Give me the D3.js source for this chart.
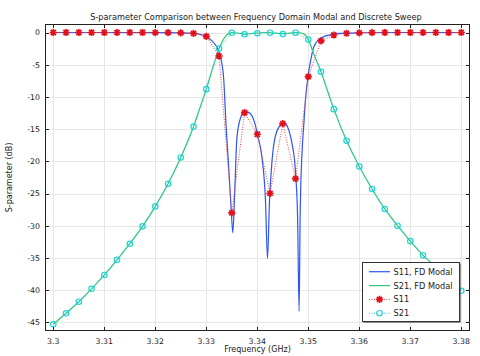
<!DOCTYPE html>
<html><head><meta charset="utf-8">
<script src="https://cdn.jsdelivr.net/npm/d3@7"></script>
<style>body{margin:0;background:#fff}svg{display:block}</style>
</head><body><svg id="c" width="480" height="356"></svg>
<script>
const titleText = "S-parameter Comparison between Frequency Domain Modal and Discrete Sweep";
const xLabel = "Frequency (GHz)";
const yLabel = "S-parameter (dB)";
const xTickValues = [3.3, 3.31, 3.32, 3.33, 3.34, 3.35, 3.36, 3.37, 3.38];
const yTickValues = [0, -5, -10, -15, -20, -25, -30, -35, -40, -45];

// Discrete sweep (markers)
const sweepFreq = [3.3, 3.3025, 3.305, 3.3075, 3.31, 3.3125, 3.315, 3.3175, 3.32, 3.3225, 3.325, 3.3275,
  3.33, 3.3325, 3.335, 3.3375, 3.34, 3.3425, 3.345, 3.3475, 3.35, 3.3525, 3.355, 3.3575, 3.36, 3.3625,
  3.365, 3.3675, 3.37, 3.3725, 3.375, 3.3775, 3.38];
const s11Sweep = [0, 0, 0, 0, 0, 0, 0, 0, -0.01, -0.02, -0.05, -0.13,
  -0.6, -3.65, -28.0, -12.45, -15.8, -24.97, -14.16, -22.7, -6.86, -1.3, -0.39, -0.12, -0.05, -0.02,
  0, 0, 0, 0, 0, 0, 0];
const s21Sweep = [-45.3, -43.6, -41.8, -39.8, -37.65, -35.3, -32.8, -30.1, -27.0, -23.5, -19.4, -14.6,
  -8.8, -2.5, -0.05, -0.28, -0.12, -0.03, -0.23, -0.03, -1.1, -6.1, -11.9, -16.8, -20.8, -24.3,
  -27.4, -30.0, -32.4, -34.6, -36.4, -38.3, -40.1];

// Frequency domain modal (continuous curves)
const modalFreqS11 = [3.3, 3.31, 3.32, 3.325, 3.3275, 3.329, 3.33, 3.3311, 3.3321, 3.3327, 3.3334, 3.3339,
  3.3344, 3.3349, 3.3352, 3.33555, 3.336, 3.3367, 3.3376, 3.3383, 3.3396, 3.34, 3.3409, 3.3416, 3.342,
  3.3424, 3.3429, 3.3435, 3.3444, 3.3452, 3.3459, 3.3468, 3.3473, 3.3476, 3.3479, 3.3482, 3.3484, 3.3488,
  3.3491, 3.3494, 3.3499, 3.3505, 3.351, 3.3517, 3.3527, 3.3543, 3.356, 3.36, 3.365, 3.38];
const modalS11 = [0, 0, -0.02, -0.05, -0.14, -0.33, -0.62, -1.3, -2.3, -3.5, -7.1, -14.8,
  -21.0, -27.8, -31.1, -25.2, -16.4, -13.3, -12.3, -12.4, -14.3, -15.8, -19.3, -26.0, -35.1,
  -26.0, -19.8, -16.2, -14.5, -14.0, -14.6, -17.2, -19.8, -22.9, -28.6, -43.3, -28.6, -18.2,
  -14.5, -10.9, -7.1, -4.2, -2.4, -1.4, -0.77, -0.36, -0.15, -0.04, 0, 0];
const modalFreqS21 = [3.3, 3.3025, 3.305, 3.3075, 3.31, 3.3125, 3.315, 3.3175, 3.32, 3.3225, 3.325, 3.3275,
  3.3288, 3.33, 3.3312, 3.3325, 3.3334, 3.3341, 3.335, 3.3352, 3.3365, 3.3378, 3.339, 3.342, 3.345,
  3.3465, 3.348, 3.3492, 3.35, 3.351, 3.3525, 3.3537, 3.355, 3.3575, 3.36, 3.3625, 3.365, 3.3675,
  3.37, 3.3725, 3.375, 3.3775, 3.38];
const modalS21 = [-45.3, -43.6, -41.8, -39.8, -37.65, -35.3, -32.8, -30.1, -27.0, -23.5, -19.4, -14.6,
  -11.6, -8.8, -5.6, -2.5, -1.0, -0.3, -0.02, 0, -0.12, -0.26, -0.15, 0, -0.18,
  -0.08, 0, -0.25, -1.05, -3.2, -6.1, -8.9, -11.9, -16.8, -20.8, -24.3, -27.4, -30.0,
  -32.4, -34.6, -36.4, -38.3, -40.1];

const legendLabels = ["S11, FD Modal", "S21, FD Modal", "S11", "S21"];
const colors = {blue: "#2f55ef", green: "#30c870", red: "#e3101c", cyan: "#1fd2d6"};

const svg = d3.select("#c");
const L = 45, R = 470, T = 24, B = 331;
const x = d3.scaleLinear().domain([3.298373, 3.381706]).range([L, R]);
const y = d3.scaleLinear().domain([-46.35, 1.32]).range([B, T]);
const font = "DejaVu Sans, sans-serif";

svg.append("rect").attr("width", 480).attr("height", 356).attr("fill", "#fff");

// grid
const grid = svg.append("g").attr("stroke", "#e6e6e6").attr("stroke-width", 1);
xTickValues.forEach(v => grid.append("line").attr("x1", Math.round(x(v)) + 0.5).attr("x2", Math.round(x(v)) + 0.5).attr("y1", T).attr("y2", B));
yTickValues.forEach(v => grid.append("line").attr("y1", Math.round(y(v)) + 0.5).attr("y2", Math.round(y(v)) + 0.5).attr("x1", L).attr("x2", R));

svg.append("clipPath").attr("id", "clip").append("rect").attr("x", L).attr("y", T).attr("width", R - L).attr("height", B - T);
const plot = svg.append("g").attr("clip-path", "url(#clip)");

const line = d3.line().x(d => x(d[0])).y(d => y(d[1])).curve(d3.curveMonotoneX);
const lin = d3.line().x(d => x(d[0])).y(d => y(d[1]));

const s11M = modalFreqS11.map((f, i) => [f, modalS11[i]]);
const s21M = modalFreqS21.map((f, i) => [f, modalS21[i]]);
const s11D = sweepFreq.map((f, i) => [f, s11Sweep[i]]);
const s21D = sweepFreq.map((f, i) => [f, s21Sweep[i]]);

plot.append("path").attr("d", line(s11M)).attr("fill", "none").attr("stroke", colors.blue).attr("stroke-width", 1.2);
plot.append("path").attr("d", line(s21M)).attr("fill", "none").attr("stroke", colors.green).attr("stroke-width", 1.2);
plot.append("path").attr("d", lin(s11D)).attr("fill", "none").attr("stroke", "#e84848").attr("stroke-width", 1).attr("stroke-dasharray", "1,1.5");
plot.append("path").attr("d", lin(s21D)).attr("fill", "none").attr("stroke", colors.cyan).attr("stroke-width", 1).attr("stroke-dasharray", "1,1.5");

function star(r) {
  const d = r * 0.707;
  return `M${-r},0L${r},0M0,${-r}L0,${r}M${-d},${-d}L${d},${d}M${-d},${d}L${d},${-d}`;
}
plot.append("g").selectAll("path").data(s11D).join("path")
  .attr("transform", d => `translate(${x(d[0])},${y(d[1])})`)
  .attr("d", star(3.6)).attr("stroke", colors.red).attr("stroke-width", 1.7).attr("fill", "none");
plot.append("g").selectAll("circle").data(s21D).join("circle")
  .attr("cx", d => x(d[0])).attr("cy", d => y(d[1])).attr("r", 2.7)
  .attr("fill", "none").attr("stroke", colors.cyan).attr("stroke-width", 1.2);

// frame + inside ticks
const ax = svg.append("g").attr("stroke", "#222").attr("stroke-width", 1).attr("fill", "none");
ax.append("rect").attr("x", L + 0.5).attr("y", T + 0.5).attr("width", R - L - 1).attr("height", B - T - 1);
xTickValues.forEach(v => {
  const px = Math.round(x(v)) + 0.5;
  ax.append("line").attr("x1", px).attr("x2", px).attr("y1", B).attr("y2", B - 4);
  ax.append("line").attr("x1", px).attr("x2", px).attr("y1", T).attr("y2", T + 4);
});
yTickValues.forEach(v => {
  const py = Math.round(y(v)) + 0.5;
  ax.append("line").attr("y1", py).attr("y2", py).attr("x1", L).attr("x2", L + 4);
  ax.append("line").attr("y1", py).attr("y2", py).attr("x1", R).attr("x2", R - 4);
});

const txt = svg.append("g").attr("font-family", font).attr("fill", "#222");
xTickValues.forEach(v => txt.append("text").attr("x", x(v)).attr("y", 343.5).attr("text-anchor", "middle").attr("font-size", 7.8).text(d3.format("")(v)));
yTickValues.forEach(v => txt.append("text").attr("x", 40).attr("y", y(v) + 2.8).attr("text-anchor", "end").attr("font-size", 7.8).text(v));
txt.append("text").attr("x", (L + R) / 2).attr("y", 352).attr("text-anchor", "middle").attr("font-size", 8).text(xLabel);
txt.append("text").attr("transform", `translate(11.5,${(T + B) / 2}) rotate(-90)`).attr("text-anchor", "middle").attr("font-size", 8).text(yLabel);
txt.append("text").attr("x", 256).attr("y", 19.5).attr("text-anchor", "middle").attr("font-size", 8.2).text(titleText);

// legend
const lg = svg.append("g");
lg.append("rect").attr("x", 363.5).attr("y", 263.5).attr("width", 97).attr("height", 59).attr("fill", "#333");
lg.append("rect").attr("x", 362.5).attr("y", 262.5).attr("width", 97).attr("height", 59).attr("fill", "#fff").attr("stroke", "#333").attr("stroke-width", 1);
const rowsY = [271.7, 285.6, 299.4, 313.2];
const lx1 = 369, lx2 = 390;
lg.append("line").attr("x1", lx1).attr("x2", lx2).attr("y1", rowsY[0]).attr("y2", rowsY[0]).attr("stroke", colors.blue).attr("stroke-width", 1.2);
lg.append("line").attr("x1", lx1).attr("x2", lx2).attr("y1", rowsY[1]).attr("y2", rowsY[1]).attr("stroke", colors.green).attr("stroke-width", 1.2);
lg.append("line").attr("x1", lx1).attr("x2", lx2).attr("y1", rowsY[2]).attr("y2", rowsY[2]).attr("stroke", "#e84848").attr("stroke-width", 1).attr("stroke-dasharray", "1,1.5");
lg.append("path").attr("transform", `translate(${(lx1 + lx2) / 2},${rowsY[2]})`).attr("d", star(3.6)).attr("stroke", colors.red).attr("stroke-width", 1.7).attr("fill", "none");
lg.append("line").attr("x1", lx1).attr("x2", lx2).attr("y1", rowsY[3]).attr("y2", rowsY[3]).attr("stroke", colors.cyan).attr("stroke-width", 1).attr("stroke-dasharray", "1,1.5");
lg.append("circle").attr("cx", (lx1 + lx2) / 2).attr("cy", rowsY[3]).attr("r", 2.7).attr("fill", "#fff").attr("stroke", colors.cyan).attr("stroke-width", 1.2);
legendLabels.forEach((t, i) => lg.append("text").attr("x", 393.5).attr("y", rowsY[i] + 3).attr("font-family", font).attr("font-size", 8.2).attr("fill", "#222").text(t));
</script></body></html>
